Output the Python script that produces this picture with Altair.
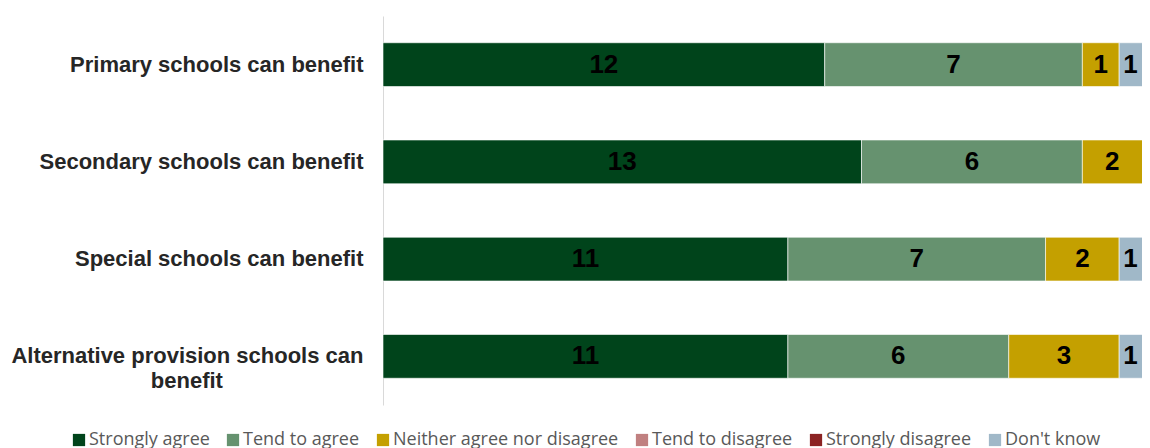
import altair as alt
import pandas as pd

statements = [
    "Primary schools can benefit",
    "Secondary schools can benefit",
    "Special schools can benefit",
    "Alternative provision schools can benefit",
]
responses = [
    "Strongly agree",
    "Tend to agree",
    "Neither agree nor disagree",
    "Tend to disagree",
    "Strongly disagree",
    "Don't know",
]
colors = ["#00441b", "#66926f", "#c4a000", "#c08080", "#8b2323", "#a0b8c8"]

strongly_agree = [12, 13, 11, 11]
tend_to_agree = [7, 6, 7, 6]
neither = [1, 2, 2, 3]
tend_to_disagree = [0, 0, 0, 0]
strongly_disagree = [0, 0, 0, 0]
dont_know = [1, 0, 1, 1]

series = [strongly_agree, tend_to_agree, neither, tend_to_disagree, strongly_disagree, dont_know]

# the reference plot is cut off at the right edge of the picture
x_visible_max = 20.62

rows = []
for ri, (resp, vals) in enumerate(zip(responses, series)):
    for s, v in zip(statements, vals):
        rows.append({"statement": s, "response": resp, "order": ri, "value": v})
df = pd.DataFrame(rows)

base = (
    alt.Chart(df)
    .transform_filter("datum.value > 0")
    .transform_stack(
        stack="value",
        groupby=["statement"],
        as_=["v0", "v1"],
        offset="zero",
        sort=[alt.SortField("order", order="ascending")],
    )
)

# second line of the wrapped label is centred under the first one
nbsp_pad = "\u00a0" * 23 + "\u200b"
label_expr = (
    "datum.label == 'Alternative provision schools can benefit' ? "
    "['Alternative provision schools can', 'benefit" + nbsp_pad + "'] : datum.label"
)

yenc = alt.Y(
    "statement:N",
    sort=statements,
    scale=alt.Scale(paddingInner=0.55, paddingOuter=0.275),
    axis=alt.Axis(
        title=None,
        ticks=False,
        domain=True,
        domainColor="#d9d9d9",
        domainWidth=1,
        labelFont="Liberation Sans",
        labelFontSize=22,
        labelFontWeight="bold",
        labelColor="#262626",
        labelPadding=20,
        labelLimit=420,
        labelLineHeight=25,
        labelExpr=label_expr,
    ),
)

xscale = alt.Scale(domain=[0, x_visible_max], nice=False, zero=True)

bars = base.mark_bar(stroke="white", strokeWidth=1, strokeOpacity=0.6, clip=True).encode(
    x=alt.X("v0:Q", scale=xscale, axis=None),
    x2="v1:Q",
    y=yenc,
    color=alt.Color(
        "response:N",
        scale=alt.Scale(domain=responses, range=colors),
        legend=alt.Legend(
            title=None,
            orient="none",
            direction="horizontal",
            legendX=-313,
            legendY=415,
            symbolType="square",
            symbolSize=150,
            symbolStrokeWidth=0,
            labelFont="Open Sans",
            labelFontSize=18,
            labelColor="#595959",
            labelOffset=1,
            labelLimit=400,
            columnPadding=14,
        ),
    ),
    order=alt.Order("order:Q"),
)

labels = base.transform_calculate(
    mid=f"(datum.v0 + min(datum.v1, {x_visible_max})) / 2"
).mark_text(
    font="Liberation Sans",
    fontSize=26,
    fontWeight="bold",
    color="black",
    baseline="middle",
    align="center",
).encode(
    x=alt.X("mid:Q", scale=xscale),
    y=alt.Y("statement:N", sort=statements),
    text="value:Q",
)

chart = (
    alt.layer(bars, labels)
    .properties(
        width=759,
        height=389,
        autosize=alt.AutoSizeParams(type="none"),
        padding={"left": 375, "top": 8, "right": 0, "bottom": 48},
    )
    .configure_view(stroke=None)
)

chart.save("out.html", embed_options={"renderer": "svg", "actions": False})
